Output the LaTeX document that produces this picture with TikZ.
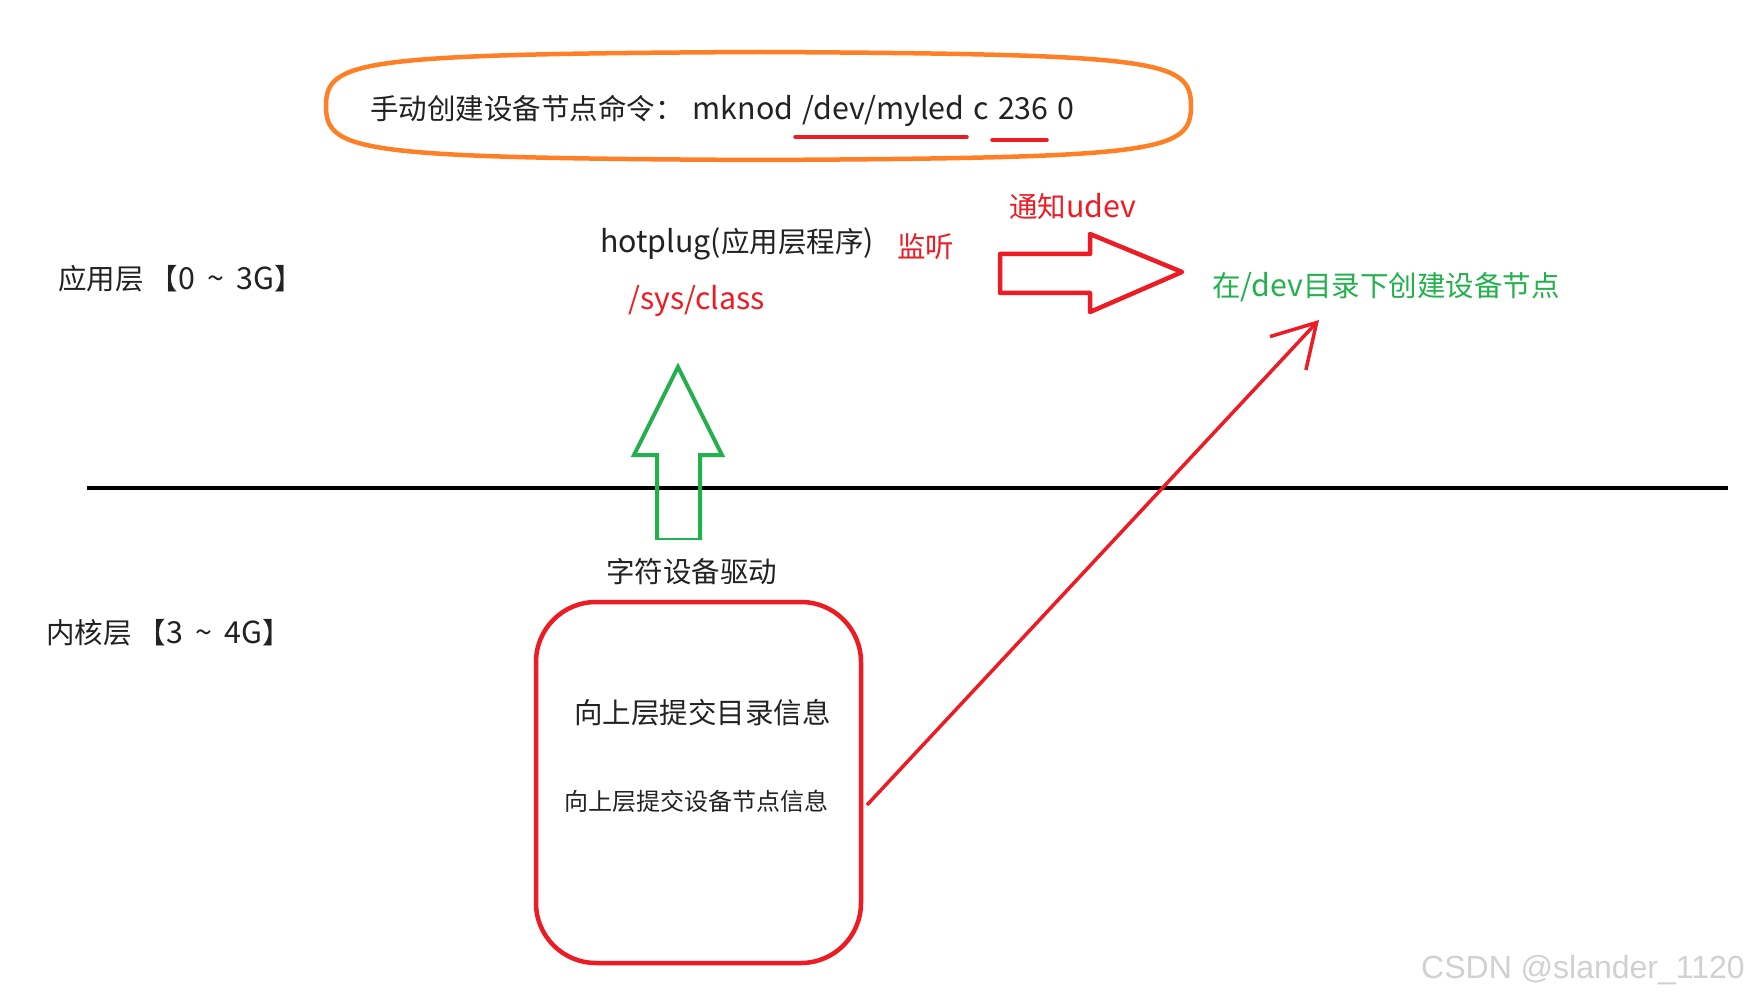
\documentclass[tikz,border=0pt]{standalone}
\usepackage{fontspec}
\setmainfont{Noto Sans CJK SC}[Scale=1.065,WordSpace=1.35]
\newfontfamily\cjkfam{Noto Sans CJK SC}
\newfontfamily\wmfont{Liberation Sans}
\newcommand\latpart[1]{{\rmfamily #1}}
\usetikzlibrary{arrows.meta}
\definecolor{cred}{HTML}{ED1C24}
\definecolor{corange}{HTML}{FF7F27}
\definecolor{cgreen}{HTML}{22B14C}
\definecolor{ctext}{HTML}{222222}
\tikzset{
  lbl/.style={inner sep=0pt, anchor=west, text=ctext, font=\cjkfam\fontsize{28.5}{34}\selectfont},
  redlbl/.style={lbl, text=cred},
  greenlbl/.style={lbl, text=cgreen},
  redline/.style={draw=cred, line width=4.5pt, line join=round},
}
\begin{document}
\begin{tikzpicture}[x=1pt,y=-1pt]
\useasboundingbox[fill=white] (0,0) rectangle (1748,1000);
% orange command box
\draw[corange, line width=4.5pt] (326,106) .. controls (326,60) and (360,54) .. (760,52)
  .. controls (1160,54) and (1191,60) .. (1191,106)
  .. controls (1191,152) and (1160,158) .. (760,160)
  .. controls (360,158) and (326,152) .. (326,106) -- cycle;
\node[lbl] (cmd) at (370,111) {手动创建设备节点命令：\hspace{9pt}\latpart{mknod /dev/myled c 236 0}};
\draw[cred, line width=3.5pt, line cap=round] (795,137) -- (967,137);
\draw[cred, line width=3.5pt, line cap=round] (992,140) -- (1047,140);
% application layer
\node[lbl] (app) at (58,279) {应用层\hspace{6pt}【\latpart{0\hspace{3pt} \textasciitilde{} \hspace{3pt}3G}】};
\node[lbl] (hot) at (600,244) {\latpart{hotplug(}应用层程序\latpart{)}};
\node[redlbl] (listen) at (897,247) {监听};
\node[redlbl] (sys) at (628,301) {\latpart{/sys/class}};
\node[redlbl] (notify) at (1009,207) {通知\latpart{udev}};
\node[greenlbl] (devnode) at (1212,287) {在\latpart{/dev}目录下创建设备节点};
% red block arrow
\draw[redline] (1000,254) -- (1090,254) -- (1090,234) -- (1182,272) -- (1090,312) -- (1090,293) -- (1000,293) -- cycle;
% divider
\draw[black, line width=4.5pt] (87,488) -- (1728,488);
% green block arrow
\draw[cgreen, line width=4pt, line join=miter] (657,540) -- (657,455) -- (634,455) -- (678,367) -- (722,455) -- (700,455) -- (700,540);
\draw[cgreen, line width=1.5pt] (657,539) -- (700,539);
% kernel layer
\node[lbl] (kern) at (46,633) {内核层\hspace{6pt}【\latpart{3\hspace{3pt} \textasciitilde{} \hspace{3pt}4G}】};
\node[lbl] (drv) at (606,572) {字符设备驱动};
\node[draw=cred, line width=4.5pt, rounded corners=60pt, minimum width=325pt, minimum height=361pt, inner sep=0pt] (kbox) at (698.5,782.5) {};
\node[lbl] (dir) at (574,713) {向上层提交目录信息};
\node[lbl, font=\cjkfam\fontsize{24}{29}\selectfont] (devinfo) at (564,801) {向上层提交设备节点信息};
% red connector
\coordinate (a1) at (867,805);
\coordinate (a2) at (1319,320);
\draw[cred, line width=3.5pt, -{Straight Barb[length=42pt,width=49pt]}] (a1) -- (a2);
% watermark
\node[inner sep=0pt, anchor=east, text=black!18, font=\wmfont\fontsize{32}{38}\selectfont] (wm) at (1745,970) {CSDN @slander\_1120};
\end{tikzpicture}
\end{document}
